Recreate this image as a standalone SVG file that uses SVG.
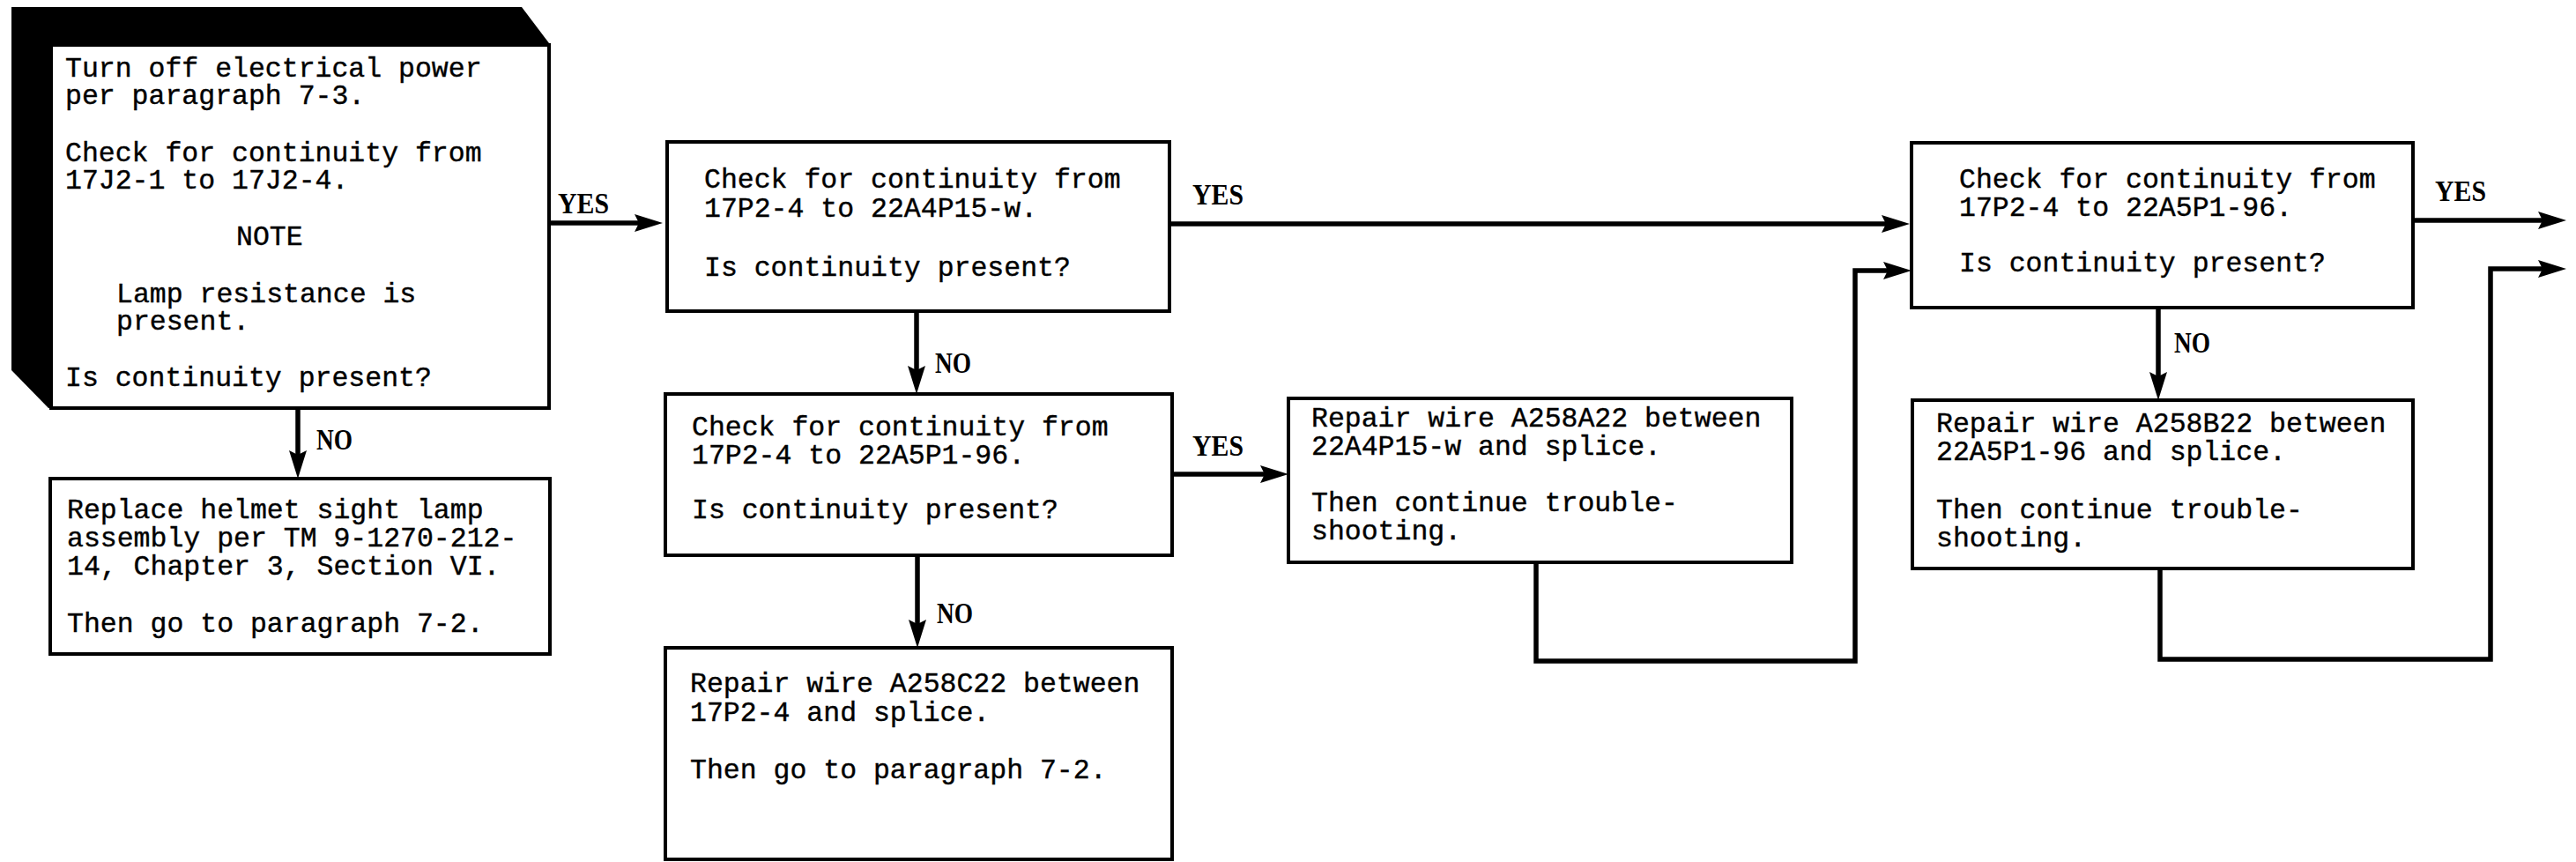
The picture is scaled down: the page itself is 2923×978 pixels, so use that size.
<svg xmlns="http://www.w3.org/2000/svg" width="2923" height="978" viewBox="0 0 2923 978">
<style>
.box{fill:#fff;stroke:#000;stroke-width:4}
.t{font-family:"Liberation Mono","DejaVu Sans Mono",monospace;font-size:31.5px;fill:#000;stroke:#000;stroke-width:0.4}
.lbl{font-family:"Liberation Serif","DejaVu Serif",serif;font-weight:bold;font-size:33px;fill:#000}
.c{fill:none;stroke:#000;stroke-width:5.5;stroke-linejoin:miter}
</style>
<defs>
<marker id="ah" viewBox="0 0 32 20" refX="10" refY="10" markerWidth="32" markerHeight="20" markerUnits="userSpaceOnUse" orient="auto">
<path d="M0,0 L32,10 L0,20 L5,10 z" fill="#000"/>
</marker>
</defs>
<rect width="2923" height="978" fill="#fff"/>

<g id="connectors">
<path class="c" d="M623,253 H730" marker-end="url(#ah)"/>
<path class="c" d="M1327,254 H2145" marker-end="url(#ah)"/>
<path class="c" d="M338,463 V521" marker-end="url(#ah)"/>
<path class="c" d="M1040,353 V425" marker-end="url(#ah)"/>
<path class="c" d="M1330,538 H1440" marker-end="url(#ah)"/>
<path class="c" d="M1041,630 V713" marker-end="url(#ah)"/>
<path class="c" d="M1743,638 V750 H2105 V307 H2147" marker-end="url(#ah)"/>
<path class="c" d="M2738,250 H2890" marker-end="url(#ah)"/>
<path class="c" d="M2449,349 V432" marker-end="url(#ah)"/>
<path class="c" d="M2451,645 V748 H2826 V305 H2890" marker-end="url(#ah)"/>
<text class="lbl" x="633" y="242" textLength="58" lengthAdjust="spacingAndGlyphs">YES</text>
<text class="lbl" x="1353" y="232" textLength="58" lengthAdjust="spacingAndGlyphs">YES</text>
<text class="lbl" x="1353" y="517" textLength="58" lengthAdjust="spacingAndGlyphs">YES</text>
<text class="lbl" x="2763" y="228" textLength="58" lengthAdjust="spacingAndGlyphs">YES</text>
<text class="lbl" x="359" y="510" textLength="41" lengthAdjust="spacingAndGlyphs">NO</text>
<text class="lbl" x="1061" y="423" textLength="41" lengthAdjust="spacingAndGlyphs">NO</text>
<text class="lbl" x="1063" y="707" textLength="41" lengthAdjust="spacingAndGlyphs">NO</text>
<text class="lbl" x="2467" y="400" textLength="41" lengthAdjust="spacingAndGlyphs">NO</text>
</g>

<g id="n1">
<polygon points="13,8 592,8 623,49 623,463 55,463 13,420" fill="#000"/>
<rect class="box" x="58" y="51" width="565" height="412"/>
<text class="t" x="74" y="87">Turn off electrical power</text>
<text class="t" x="74" y="118">per paragraph 7-3.</text>
<text class="t" x="74" y="183">Check for continuity from</text>
<text class="t" x="74" y="214">17J2-1 to 17J2-4.</text>
<text class="t" x="268" y="278">NOTE</text>
<text class="t" x="132" y="343">Lamp resistance is</text>
<text class="t" x="132" y="374">present.</text>
<text class="t" x="74" y="438">Is continuity present?</text>
</g>

<g id="n2">
<rect class="box" x="57" y="543" width="567" height="199"/>
<text class="t" x="76" y="588">Replace helmet sight lamp</text>
<text class="t" x="76" y="620">assembly per TM 9-1270-212-</text>
<text class="t" x="76" y="652">14, Chapter 3, Section VI.</text>
<text class="t" x="76" y="717">Then go to paragraph 7-2.</text>
</g>

<g id="n3">
<rect class="box" x="757" y="161" width="570" height="192"/>
<text class="t" x="799" y="213">Check for continuity from</text>
<text class="t" x="799" y="246">17P2-4 to 22A4P15-w.</text>
<text class="t" x="799" y="313">Is continuity present?</text>
</g>

<g id="n4">
<rect class="box" x="755" y="447" width="575" height="183"/>
<text class="t" x="785" y="494">Check for continuity from</text>
<text class="t" x="785" y="526">17P2-4 to 22A5P1-96.</text>
<text class="t" x="785" y="588">Is continuity present?</text>
</g>

<g id="n5">
<rect class="box" x="755" y="735" width="575" height="240"/>
<text class="t" x="783" y="785">Repair wire A258C22 between</text>
<text class="t" x="783" y="818">17P2-4 and splice.</text>
<text class="t" x="783" y="883">Then go to paragraph 7-2.</text>
</g>

<g id="n6">
<rect class="box" x="1462" y="452" width="571" height="186"/>
<text class="t" x="1488" y="484">Repair wire A258A22 between</text>
<text class="t" x="1488" y="516">22A4P15-w and splice.</text>
<text class="t" x="1488" y="580">Then continue trouble-</text>
<text class="t" x="1488" y="612">shooting.</text>
</g>

<g id="n7">
<rect class="box" x="2169" y="162" width="569" height="187"/>
<text class="t" x="2223" y="213">Check for continuity from</text>
<text class="t" x="2223" y="245">17P2-4 to 22A5P1-96.</text>
<text class="t" x="2223" y="308">Is continuity present?</text>
</g>

<g id="n8">
<rect class="box" x="2170" y="454" width="568" height="191"/>
<text class="t" x="2197" y="490">Repair wire A258B22 between</text>
<text class="t" x="2197" y="522">22A5P1-96 and splice.</text>
<text class="t" x="2197" y="588">Then continue trouble-</text>
<text class="t" x="2197" y="620">shooting.</text>
</g>
</svg>
